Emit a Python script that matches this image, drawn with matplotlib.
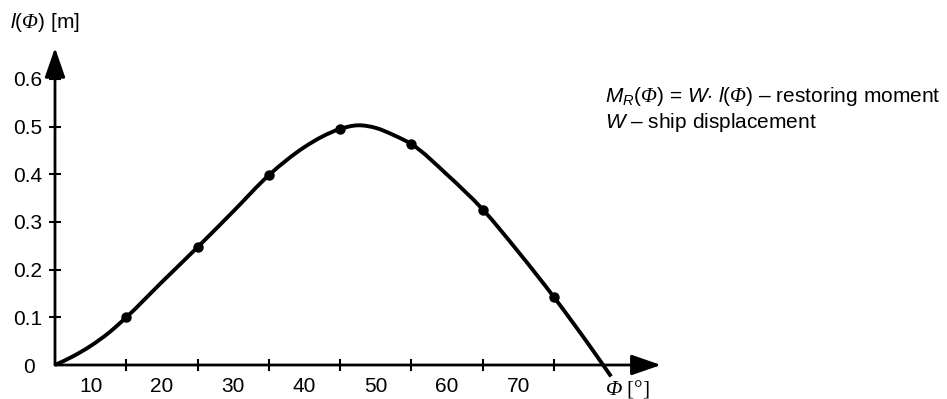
import matplotlib
matplotlib.use("Agg")
import matplotlib.pyplot as plt
from matplotlib.path import Path
from matplotlib.patches import PathPatch

plt.rcParams['font.family'] = ['Liberation Sans', 'DejaVu Sans']
plt.rcParams['mathtext.fontset'] = 'custom'
plt.rcParams['mathtext.rm'] = 'Liberation Sans'
plt.rcParams['mathtext.it'] = 'Liberation Sans:italic'
plt.rcParams['mathtext.cal'] = 'Liberation Serif:italic'

# measured points (heel angle in degrees, righting lever in m)
phi_pts = [15, 25, 35, 45, 55, 65, 75]
l_pts = [0.100, 0.247, 0.398, 0.495, 0.463, 0.326, 0.142]

# curve
curve_phi = [5, 7.5, 10, 12.5, 15, 20, 25, 30, 35, 40, 42.5, 45, 47.5, 50,
             52.5, 55, 60, 65, 70, 75, 80, 83]
curve_l = [0.0, 0.018, 0.040, 0.067, 0.100, 0.174, 0.247, 0.322, 0.398, 0.457,
           0.479, 0.495, 0.5025, 0.497, 0.482, 0.463, 0.399, 0.326, 0.237,
           0.142, 0.040, -0.024]

y_ticks = [0.1, 0.2, 0.3, 0.4, 0.5, 0.6]
y_labels = ['0.1', '0.2', '0.3', '0.4', '0.5', '0.6']
x_ticks = [15, 25, 35, 45, 55, 65, 75]
x_label_pos = [10, 20, 30, 40, 50, 60, 70]
x_labels = ['10', '20', '30', '40', '50', '60', '70']

FS = 15
W, H = 947, 399
fig = plt.figure(figsize=(W / 100, H / 100), dpi=100)
ax = fig.add_axes([55 / W, (H - 365) / H, (661 - 55) / W, (365 - 47.8) / H])
ax.set_xlim(5, 90)
ax.set_ylim(0, 0.665)
for s in ax.spines.values():
    s.set_visible(False)

# axes with arrows
arrow_kw = dict(arrowstyle='-|>,head_length=1.3,head_width=0.45', color='black',
                lw=2.0, shrinkA=0, shrinkB=0, mutation_scale=14)
ax.annotate('', xy=(90, 0), xytext=(5, 0), arrowprops=arrow_kw,
            annotation_clip=False)
ax.annotate('', xy=(5, 0.665), xytext=(5, 0), arrowprops=arrow_kw,
            annotation_clip=False)

ax.set_yticks(y_ticks)
ax.set_yticklabels(y_labels)
ax.set_xticks(x_ticks)
ax.set_xticklabels([])
ax.set_xticks(x_label_pos, minor=True)
ax.set_xticklabels(x_labels, minor=True)
ax.tick_params(axis='both', which='major', direction='inout', length=9, width=1.5,
               labelsize=FS, color='black')
ax.tick_params(axis='y', which='major', pad=5)
ax.tick_params(axis='x', which='minor', length=0, pad=9, labelsize=FS)

# smooth rendering of the read curve (Hermite with finite-difference slopes)
n = len(curve_phi)
slopes = []
for i in range(n):
    if i == 0:
        m = (curve_l[1] - curve_l[0]) / (curve_phi[1] - curve_phi[0])
    elif i == n - 1:
        m = (curve_l[-1] - curve_l[-2]) / (curve_phi[-1] - curve_phi[-2])
    else:
        h0 = curve_phi[i] - curve_phi[i - 1]
        h1 = curve_phi[i + 1] - curve_phi[i]
        d0 = (curve_l[i] - curve_l[i - 1]) / h0
        d1 = (curve_l[i + 1] - curve_l[i]) / h1
        m = (d0 * h1 + d1 * h0) / (h0 + h1)
    slopes.append(m)
verts = [(curve_phi[0], curve_l[0])]
codes = [Path.MOVETO]
for i in range(n - 1):
    h = curve_phi[i + 1] - curve_phi[i]
    c1 = (curve_phi[i] + h / 3, curve_l[i] + slopes[i] * h / 3)
    c2 = (curve_phi[i + 1] - h / 3, curve_l[i + 1] - slopes[i + 1] * h / 3)
    verts += [c1, c2, (curve_phi[i + 1], curve_l[i + 1])]
    codes += [Path.CURVE4, Path.CURVE4, Path.CURVE4]
curve = PathPatch(Path(verts, codes), facecolor='none', edgecolor='black',
                  lw=2.8, clip_on=False, zorder=3, capstyle='butt')
ax.add_patch(curve)
ax.plot(phi_pts, l_pts, 'o', color='black', ms=6.5, clip_on=False, zorder=4)

# "0" label at origin
ax.text(-0.033, -0.006, '0', transform=ax.get_yaxis_transform(), ha='right',
        va='center', fontsize=FS)

fig.text(10 / W, 1 - 22 / H, r'$\mathit{l}(\mathcal{\Phi})$ [m]', fontsize=FS,
         ha='left', va='center')
fig.text(605 / W, 1 - 389 / H, r'$\mathcal{\Phi}$ [°]', fontsize=15.5,
         ha='left', va='center', family=['Liberation Serif', 'DejaVu Serif'])
fig.text(605 / W, 1 - 96 / H,
         r'$M_R(\mathcal{\Phi})$ = $W$$\cdot$ $\mathit{l}(\mathcal{\Phi})$ – restoring moment',
         fontsize=FS, ha='left', va='center')
fig.text(605 / W, 1 - 122 / H, r'$W$ – ship displacement', fontsize=FS,
         ha='left', va='center')

fig.savefig('out.png', dpi=100)
